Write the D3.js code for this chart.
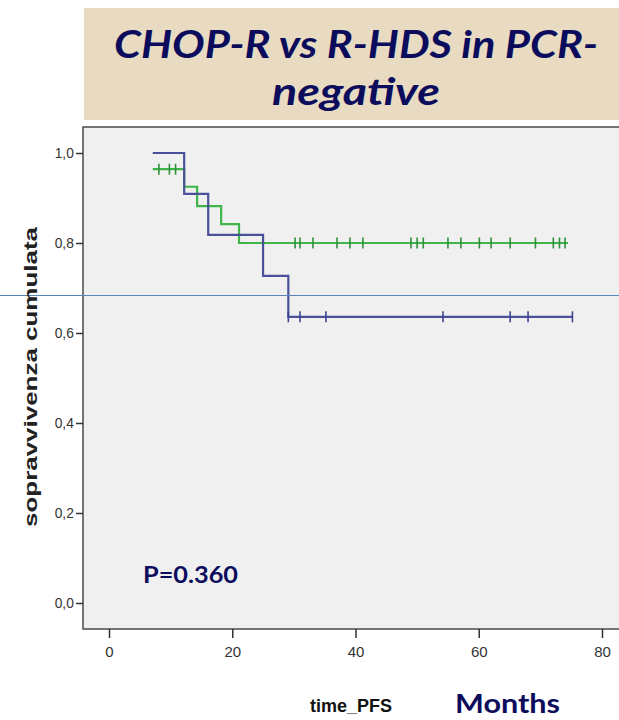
<!DOCTYPE html>
<html>
<head>
<meta charset="utf-8">
<title>CHOP-R vs R-HDS in PCR-negative</title>
<script src="https://cdn.jsdelivr.net/npm/d3@7"></script>
<style>
  body { margin:0; background:#fff; }
  svg { display:block; }
</style>
</head>
<body>
<svg id="chart" width="619" height="720"></svg>
<script>
// ---- data ----
var xTicks = [0, 20, 40, 60, 80]
var yTicks = [0, 0.2, 0.4, 0.6, 0.8, 1.0]

// R-HDS (blue)
var blueStart = 7.1
var blueEnd = 75.2
var blueEventTimes = [12.2, 16.1, 25.0, 29.1]
var blueSurv = [1.0, 0.909, 0.818, 0.727, 0.636]
var blueCensor = [29.1, 31.0, 35.2, 54.2, 65.1, 68.0, 75.2]

// CHOP-R (green)
var greenStart = 7.1
var greenEnd = 74.5
var greenEventTimes = [12.2, 14.3, 18.2, 21.1]
var greenSurv = [0.964, 0.925, 0.882, 0.842, 0.80]
var greenCensor = [8.1, 9.8, 10.8, 30.2, 31.0, 33.1, 37.0, 39.1, 41.2, 49.0, 50.0, 51.0,
                   55.0, 57.1, 60.1, 62.0, 65.1, 69.2, 72.1, 73.1, 74.0]

var navy = "#0c0c5c"
var svg = d3.select("#chart")

//---title box---
svg.append("rect")
  .attr("x", 84).attr("y", 8)
  .attr("width", 535).attr("height", 112)
  .attr("fill", "#e8dbc2")

var titleLines = ["CHOP-R vs R-HDS in PCR-", "negative"]
var titleWidths = [484, 168]
titleLines.forEach(function(t, i) {
  svg.append("text")
    .text(t)
    .attr("x", 356)
    .attr("y", 58 + i * 47)
    .attr("text-anchor", "middle")
    .attr("font-family", "Lato, 'Open Sans', sans-serif")
    .attr("font-weight", "bold")
    .attr("font-style", "italic")
    .attr("font-size", 38)
    .attr("fill", navy)
    .attr("textLength", titleWidths[i])
    .attr("lengthAdjust", "spacingAndGlyphs")
})

//---plot panel---
var panelLeft = 83, panelTop = 127, panelBottom = 629
svg.append("rect")
  .attr("x", panelLeft).attr("y", panelTop)
  .attr("width", 560).attr("height", panelBottom - panelTop)
  .attr("fill", "#f0f0f0")
  .attr("stroke", "#4a4a4a")
  .attr("stroke-width", 1.5)

var x = d3.scaleLinear().domain([0, 80]).range([109, 602])
var y = d3.scaleLinear().domain([0, 1]).range([603, 153])

//---axes---
var xAxis = svg.append("g")
  .attr("transform", "translate(0," + panelBottom + ")")
  .call(d3.axisBottom(x).tickValues(xTicks).tickSize(9).tickPadding(8).tickFormat(d3.format("d")))
xAxis.select(".domain").remove()

var yAxis = svg.append("g")
  .attr("transform", "translate(" + panelLeft + ",0)")
  .call(d3.axisLeft(y).tickValues(yTicks).tickSize(7).tickPadding(3)
    .tickFormat(function(d) { return d.toFixed(1).replace(".", ",") }))
yAxis.select(".domain").remove()

svg.selectAll(".tick line").attr("stroke", "#333").attr("stroke-width", 1.5)
svg.selectAll(".tick text")
  .attr("fill", "#333")
  .attr("font-family", "'Liberation Sans Narrow', 'Liberation Sans', Arial, sans-serif")
  .attr("font-size", 15)
  .attr("transform", "scale(0.92,1)")
xAxis.selectAll(".tick text").attr("transform", null).attr("font-size", 15)

//---survival steps---
function stepPoints(start, end, times, surv) {
  var pts = [[start, surv[0]]]
  times.forEach(function(t, i) {
    pts.push([t, surv[i]])
    pts.push([t, surv[i + 1]])
  })
  pts.push([end, surv[surv.length - 1]])
  return pts
}
function survAt(t, times, surv) {
  var k = 0
  times.forEach(function(e, i) { if (t >= e) k = i + 1 })
  return surv[k]
}

var line = d3.line().x(function(d) { return x(d[0]) }).y(function(d) { return y(d[1]) })

var groups = [
  { start: greenStart, end: greenEnd, times: greenEventTimes, surv: greenSurv, censor: greenCensor, color: "#3fb54a", mark: "#2f8f3a" },
  { start: blueStart, end: blueEnd, times: blueEventTimes, surv: blueSurv, censor: blueCensor, color: "#4b509b", mark: "#3e4390" }
]

groups.forEach(function(g) {
  svg.append("path")
    .datum(stepPoints(g.start, g.end, g.times, g.surv))
    .attr("d", line)
    .attr("fill", "none")
    .attr("stroke", g.color)
    .attr("stroke-width", 2.2)

  svg.append("g").selectAll("line")
    .data(g.censor)
    .join("line")
    .attr("x1", function(d) { return x(d) })
    .attr("x2", function(d) { return x(d) })
    .attr("y1", function(d) { return y(survAt(d, g.times, g.surv)) - 5.5 })
    .attr("y2", function(d) { return y(survAt(d, g.times, g.surv)) + 5.5 })
    .attr("stroke", g.mark)
    .attr("stroke-width", 1.6)
})

//---stray horizontal rule across the slide---
svg.append("line")
  .attr("x1", 0).attr("x2", 619)
  .attr("y1", 295.5).attr("y2", 295.5)
  .attr("stroke", "#5a86b8")
  .attr("stroke-width", 1)

//---labels---
svg.append("text")
  .text("sopravvivenza cumulata")
  .attr("transform", "translate(37,377)rotate(-90)")
  .attr("text-anchor", "middle")
  .attr("font-family", "'Liberation Sans', Arial, sans-serif")
  .attr("font-weight", "bold")
  .attr("font-size", 18)
  .attr("fill", "#222")
  .attr("textLength", 300)
  .attr("lengthAdjust", "spacingAndGlyphs")

svg.append("text")
  .text("P=0.360")
  .attr("x", 143).attr("y", 583)
  .attr("font-family", "Lato, 'Open Sans', sans-serif")
  .attr("font-weight", "bold")
  .attr("font-size", 22)
  .attr("fill", navy)
  .attr("textLength", 95)
  .attr("lengthAdjust", "spacingAndGlyphs")

svg.append("text")
  .text("time_PFS")
  .attr("x", 310).attr("y", 712)
  .attr("font-family", "'Liberation Sans Narrow', 'Liberation Sans', Arial, sans-serif")
  .attr("font-weight", "bold")
  .attr("font-size", 19)
  .attr("fill", "#111")
  .attr("textLength", 82)
  .attr("lengthAdjust", "spacingAndGlyphs")

svg.append("text")
  .text("Months")
  .attr("x", 455).attr("y", 713)
  .attr("font-family", "Lato, 'Open Sans', sans-serif")
  .attr("font-weight", "bold")
  .attr("font-size", 27)
  .attr("fill", navy)
  .attr("textLength", 105)
  .attr("lengthAdjust", "spacingAndGlyphs")
</script>
</body>
</html>
